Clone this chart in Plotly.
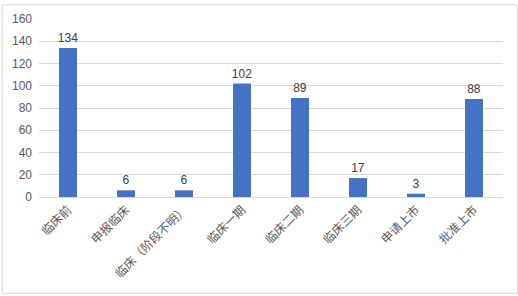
import plotly.graph_objects as go

categories = ["临床前", "申报临床", "临床（阶段不明）", "临床一期", "临床二期", "临床三期", "申请上市", "批准上市"]
values = [134, 6, 6, 102, 89, 17, 3, 88]
y_ticks = [0, 20, 40, 60, 80, 100, 120, 140, 160]

fig = go.Figure(go.Bar(
    x=categories, y=values,
    marker=dict(color="#4472C4", line=dict(width=0)),
    text=[str(v) for v in values], textposition="outside",
    constraintext="none",
    textfont=dict(family="Liberation Sans", size=12, color="#404040"),
    cliponaxis=False,
))

fig.update_layout(
    width=518, height=296,
    margin=dict(l=37, r=15, t=15, b=99),
    paper_bgcolor="white", plot_bgcolor="white",
    bargap=0.69,
    showlegend=False,
    font=dict(family="Noto Sans CJK SC, Liberation Sans", color="#595959", size=12),
    xaxis=dict(tickangle=-45, showgrid=False, showline=True, linecolor="#d9d9d9", linewidth=1,
               ticks="", tickfont=dict(size=12, color="#595959")),
    yaxis=dict(range=[0, 160], tickvals=y_ticks, showgrid=True, gridcolor="#d9d9d9", gridwidth=1,
               zeroline=False, showline=False, ticks="", tickfont=dict(family="Liberation Sans", size=12, color="#595959"),
               ticklabelstandoff=6),
    shapes=[dict(type="rect", xref="paper", yref="paper", x0=-37/466, x1=1+14.5/466,
                 y0=-98.5/182, y1=1+14.5/182, line=dict(color="#d9d9d9", width=1))],
)

fig.write_html("out.html")
